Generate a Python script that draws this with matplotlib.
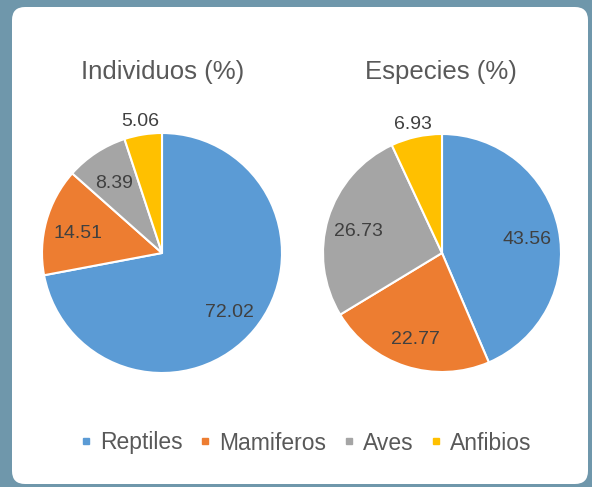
import numpy as np
import matplotlib
matplotlib.use("Agg")
import matplotlib.pyplot as plt
from matplotlib.patches import FancyBboxPatch
from matplotlib.lines import Line2D

plt.rcParams['font.family'] = ['Liberation Sans', 'DejaVu Sans']

categories = ["Reptiles", "Mamiferos", "Aves", "Anfibios"]
individuos = [72.02, 14.51, 8.39, 5.06]
especies = [43.56, 22.77, 26.73, 6.93]
titles = ["Individuos (%)", "Especies (%)"]
colors = ["#5B9BD5", "#ED7D31", "#A5A5A5", "#FFC000"]

W, H = 592, 487
fig = plt.figure(figsize=(W / 100, H / 100), dpi=100)
fig.patch.set_facecolor("#6F97AB")

panel = FancyBboxPatch((12 / W, 3 / H), (588 - 12) / W, (480 - 3) / H,
                       boxstyle="round,pad=0,rounding_size=0.022",
                       transform=fig.transFigure, facecolor="white",
                       edgecolor="none", zorder=-5, mutation_aspect=W / H)
fig.patches.append(panel)

def draw(cx, cy, r, vals, title, tx):
    ax = fig.add_axes([(cx - r) / W, (H - cy - r) / H, 2 * r / W, 2 * r / H])
    ax.set_zorder(2)
    wedges, _ = ax.pie(vals, colors=colors, startangle=90, counterclock=False,
                       wedgeprops=dict(edgecolor="white", linewidth=1.5))
    ax.set_xlim(-1, 1)
    ax.set_ylim(-1, 1)
    ax.set_aspect("auto")
    ax.patch.set_visible(False)
    for w, v in zip(wedges, vals):
        ang = np.deg2rad((w.theta1 + w.theta2) / 2)
        d = 0.73 if v > 7 else 1.14
        ax.text(d * np.cos(ang), d * np.sin(ang) - 0.03, f"{v:.2f}", ha="center",
                va="center", fontsize=14, color="#404040")
    fig.text(tx / W, 1 - 72 / H, title, ha="center", va="center",
             fontsize=18.5, color="#595959")

draw(162, 253, 120, individuos, titles[0], 163)
draw(442, 253, 119, especies, titles[1], 441)

handles = [Line2D([], [], marker="s", linestyle="none", markersize=5,
                  markerfacecolor=c, markeredgecolor=c) for c in colors]
fig.legend(handles, categories, loc="center", bbox_to_anchor=(303 / W, 1 - 443 / H),
           ncol=4, frameon=False, fontsize=16.5, labelcolor="#595959",
           handletextpad=0.1, columnspacing=0.5, handlelength=1.0)

fig.savefig("out.png", dpi=100, facecolor=fig.get_facecolor())
